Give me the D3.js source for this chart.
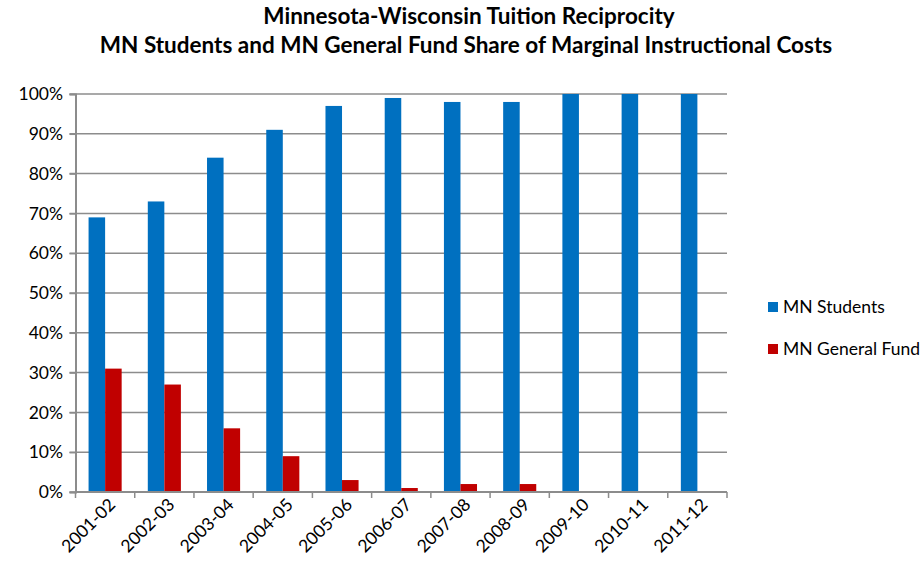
<!DOCTYPE html>
<html>
<head>
<meta charset="utf-8">
<script src="https://cdnjs.cloudflare.com/ajax/libs/d3/7.8.5/d3.min.js"></script>
<style>
	body { margin: 0; background: #fff; }
	svg text { font-family: Lato, "Open Sans", sans-serif; fill: #000; }
</style>
</head>
<body>
<div id="chart"></div>
<script>
var years = ["2001-02", "2002-03", "2003-04", "2004-05", "2005-06", "2006-07", "2007-08", "2008-09", "2009-10", "2010-11", "2011-12"];
var mnStudents = [69, 73, 84, 91, 97, 99, 98, 98, 100, 100, 100];
var mnGeneralFund = [31, 27, 16, 9, 3, 1, 2, 2, 0, 0, 0];
var seriesNames = ["MN Students", "MN General Fund"];
var seriesColors = ["#0070C0", "#C00000"];
var yTicks = [0, 10, 20, 30, 40, 50, 60, 70, 80, 90, 100];

var width = 924, height = 571;
var plotLeft = 75.5, plotRight = 727, plotTop = 94, plotBottom = 492;

var svg = d3.select("#chart")
	.append("svg")
	.attr("width", width)
	.attr("height", height);

// title
svg.append("text")
	.attr("x", 469).attr("y", 24)
	.attr("text-anchor", "middle")
	.style("font-size", "22.5px").style("font-weight", "bold")
	.text("Minnesota-Wisconsin Tuition Reciprocity");
svg.append("text")
	.attr("x", 466).attr("y", 53)
	.attr("text-anchor", "middle")
	.style("font-size", "22.5px").style("font-weight", "bold")
	.text("MN Students and MN General Fund Share of Marginal Instructional Costs");

var x = d3.scaleBand().domain(years).range([plotLeft, plotRight]);
var x1 = d3.scaleBand().domain(seriesNames).range([0, x.bandwidth()]).paddingOuter(0.79);
var y = d3.scaleLinear().domain([0, 100]).range([plotBottom, plotTop]);

// gridlines
svg.append("g")
	.selectAll("line")
	.data(yTicks)
	.enter()
		.append("line")
		.attr("x1", plotLeft - 6).attr("x2", plotRight)
		.attr("y1", function(d) { return y(d); })
		.attr("y2", function(d) { return y(d); })
		.attr("stroke", "#8c8c8c")
		.attr("stroke-width", 1.5);

// bars
var series = [mnStudents, mnGeneralFund];
series.forEach(function(values, s) {
	svg.append("g")
		.selectAll("rect")
		.data(values)
		.enter()
			.append("rect")
			.attr("x", function(d, i) { return x(years[i]) + x1(seriesNames[s]); })
			.attr("y", function(d) { return y(d); })
			.attr("width", x1.bandwidth())
			.attr("height", function(d) { return y(0) - y(d); })
			.attr("fill", seriesColors[s]);
});

// y axis
var yAxis = svg.append("g")
	.attr("transform", "translate(" + plotLeft + ",0)")
	.call(d3.axisLeft(y).tickValues(yTicks).tickSize(6).tickFormat(function(d) { return d + "%"; }));
yAxis.selectAll("text").style("font-size", "17.5px").attr("dx", "-0.2em");

// x axis
var xAxis = svg.append("g")
	.attr("transform", "translate(0," + plotBottom + ")")
	.call(d3.axisBottom(x).tickSize(0));
xAxis.selectAll(".tick text")
	.style("font-size", "17.5px")
	.attr("text-anchor", "end")
	.attr("transform", "rotate(-45)")
	.attr("dx", "-0.1em")
	.attr("dy", "0.9em")
	.attr("x", 0).attr("y", 2);
// category boundary ticks
svg.append("g")
	.selectAll("line")
	.data(years.concat(["end"]))
	.enter()
		.append("line")
		.attr("x1", function(d, i) { return plotLeft + i * x.step(); })
		.attr("x2", function(d, i) { return plotLeft + i * x.step(); })
		.attr("y1", plotBottom).attr("y2", plotBottom + 6)
		.attr("stroke", "#8c8c8c").attr("stroke-width", 1.5);

svg.selectAll(".domain").attr("stroke", "#8c8c8c").attr("stroke-width", 2);
yAxis.selectAll(".tick line").attr("stroke", "#8c8c8c").attr("stroke-width", 1.5);
xAxis.select(".domain").attr("d", "M" + plotLeft + ",0H" + plotRight);

// legend
var legend = svg.append("g")
	.selectAll("g")
	.data(seriesNames)
	.enter()
		.append("g")
		.attr("transform", function(d, i) { return "translate(768," + (302 + i * 42) + ")"; });
legend.append("rect")
	.attr("width", 10).attr("height", 10)
	.attr("fill", function(d, i) { return seriesColors[i]; });
legend.append("text")
	.attr("x", 15).attr("y", 11)
	.style("font-size", "17.5px")
	.text(function(d) { return d; });
</script>
</body>
</html>
